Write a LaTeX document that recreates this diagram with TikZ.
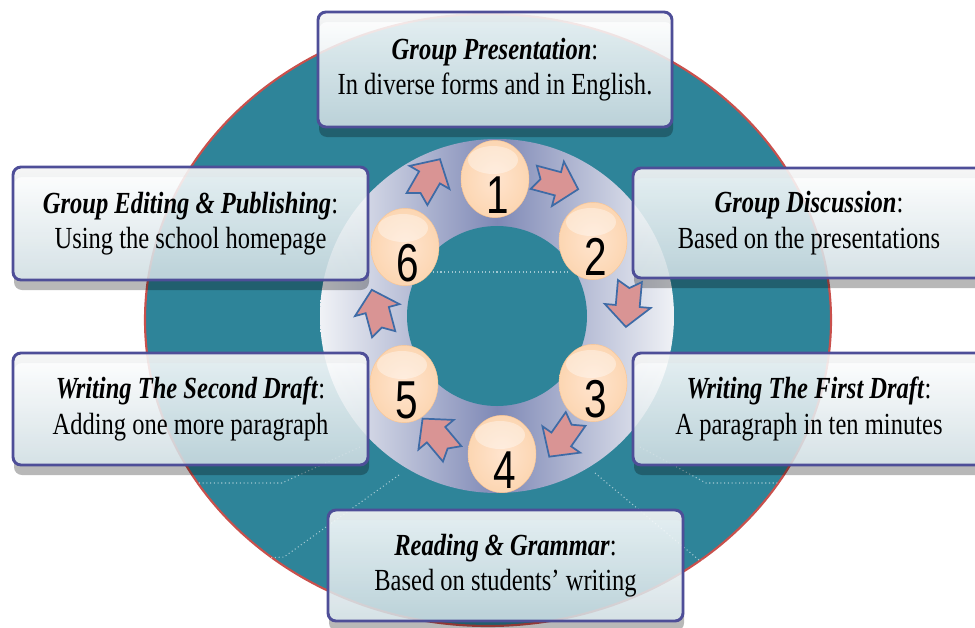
\documentclass[tikz,border=0pt]{standalone}
\usepackage{fontspec}
\setmainfont{Liberation Serif}[FakeStretch=0.8]
\newfontfamily\digitfont{Liberation Sans}[FakeStretch=0.76]
\usetikzlibrary{shapes.geometric}
\definecolor{tealc}{HTML}{2E8499}
\definecolor{redc}{HTML}{C9504C}
\definecolor{boxblue}{HTML}{4E4E98}
\definecolor{boxbot}{HTML}{CFDDE2}
\definecolor{ringdark}{HTML}{7F89B6}
\definecolor{ringlight}{HTML}{F0F2F6}
\definecolor{ballc}{HTML}{FCD6B2}
\definecolor{ballin}{HTML}{FFE4CE}
\definecolor{arrowfill}{HTML}{D99494}
\definecolor{arrowline}{HTML}{3E6BA6}
\tikzset{
  boxst/.style={draw=boxblue, line width=2.2pt, rounded corners=6pt,
    top color=white, bottom color=boxbot, fill opacity=0.88, text opacity=1,
    align=center, inner sep=0pt,
    font=\fontsize{23pt}{26.5pt}\selectfont},
  ballst/.style={ellipse, draw=ballc!80!orange, line width=0.3pt,
    inner color=ballin, outer color=ballc, minimum width=51pt, minimum height=58pt, inner sep=0pt},
  digitst/.style={inner sep=0pt, font=\digitfont\fontsize{40pt}{40pt}\selectfont},
  dotst/.style={white, opacity=0.55, line width=0.8pt, dotted},
  arrowst/.style={fill=arrowfill, draw=arrowline, line width=1.3pt, line join=miter},
  barrow/.pic={\draw[arrowst] (-22,-12) -- (3,-12) -- (3,-23) -- (24,0) -- (3,23) -- (3,12) -- (-22,12) -- (-15,0) -- cycle;}
}
\newcommand\mkbox[7]{%
  \fill[black, opacity=0.28, even odd rule, rounded corners=6pt]
    ({#2+1},{#3+10}) rectangle ({#4+1},{#5+10}) ({#2},{#3}) rectangle ({#4},{#5});
  \node[boxst, minimum width={(#4-#2)*0.75pt}, minimum height={(#5-#3)*0.75pt}]
    (#1) at ({(#2+#4)/2},{(#3+#5)/2}) {\textbf{\textit{#6}}:\\#7};
}
\newcommand\mkball[5]{%
  \node[ballst] (#1) at (#2,#3) {};
  \fill[white, opacity=0.38] ({#2-2},{#3-19}) ellipse[x radius=25, y radius=14];
  \node[digitst] (#1n) at ({#2+3},{#3+16}) {#4};
}
\begin{document}
\begin{tikzpicture}[x=0.75pt, y=-0.75pt]
\useasboundingbox (0,0) rectangle (975,628);
% big disc
\filldraw[fill=tealc, draw=redc, line width=1.6pt] (488,320) ellipse[x radius=343, y radius=306];
% faint dotted guide lines
\draw[dotst] (360,447) -- (282,483) -- (195,483);
\draw[dotst] (399,475) -- (284,557) -- (181,563);
\draw[dotst] (640,447) -- (706,483) -- (800,483);
\draw[dotst] (595,473) -- (699,560) -- (800,565);
% ring
\begin{scope}
  \clip (497,316) circle[radius=177];
  \shade[left color=ringlight, right color=ringlight, middle color=ringdark] (320,139) rectangle (674,493);
\end{scope}
\fill[tealc] (497,316) circle[radius=90];
\draw[dotst] (433,272) -- (570,272);
% boxes
\mkbox{bpres}{318}{12}{672}{127}{Group Presentation}{In diverse forms and in English.}
\mkbox{bedit}{13}{167}{368}{280}{Group Editing \& Publishing}{Using the school homepage}
\mkbox{bsecond}{13}{353}{368}{465}{Writing The Second Draft}{Adding one more paragraph}
\mkbox{bdisc}{633}{168}{985}{278}{Group Discussion}{Based on the presentations}
\mkbox{bfirst}{633}{353}{985}{465}{Writing The First Draft}{A paragraph in ten minutes}
\mkbox{bread}{328}{510}{683}{621}{Reading \& Grammar}{Based on students’ writing}
% balls
\mkball{b1}{495}{179}{1}{}
\mkball{b2}{593}{241}{2}{}
\mkball{b3}{593}{383}{3}{}
\mkball{b4}{502}{454}{4}{}
\mkball{b5}{404}{384}{5}{}
\mkball{b6}{405}{247}{6}{}
% arrows
\pic[rotate=60] (a61) at (428,180) {barrow};
\pic[rotate=-15] (a12) at (555,183) {barrow};
\pic[rotate=-95] (a23) at (628,303) {barrow};
\pic[rotate=-125] (a34) at (563,437) {barrow};
\pic[rotate=130] (a45) at (438,437) {barrow};
\pic[rotate=105] (a56) at (378,313) {barrow};
\end{tikzpicture}
\end{document}
